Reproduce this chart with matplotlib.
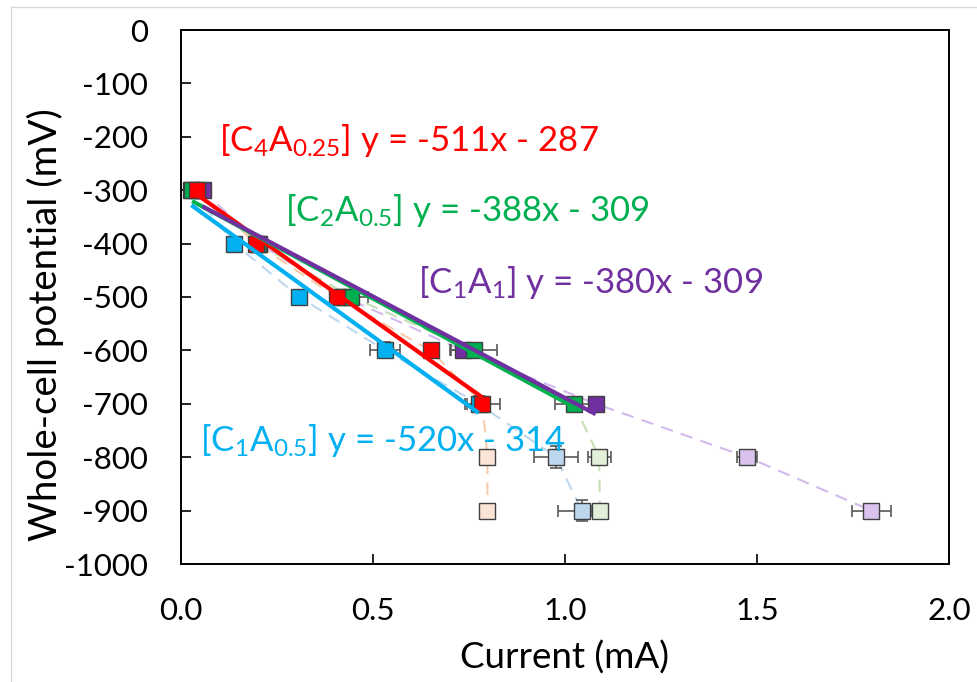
import matplotlib
matplotlib.use('Agg')
import matplotlib.pyplot as plt
from matplotlib.lines import Line2D

plt.rcParams['font.family'] = ['Lato', 'DejaVu Sans']
plt.rcParams['mathtext.fontset'] = 'custom'
plt.rcParams['mathtext.rm'] = 'Lato'
plt.rcParams['mathtext.it'] = 'Lato:italic'
plt.rcParams['axes.unicode_minus'] = False

# whole-cell potential steps (mV)
potential = [-300, -400, -500, -600, -700, -800, -900]

# current (mA) per electrolyte composition
cur_c4a025 = [0.042, 0.195, 0.405, 0.650, 0.785, 0.798, 0.798]
cur_c2a05 = [0.029, 0.200, 0.444, 0.762, 1.023, 1.089, 1.091]
cur_c1a1 = [0.056, 0.204, 0.425, 0.734, 1.080, 1.475, 1.798]
cur_c1a05 = [0.027, 0.139, 0.308, 0.531, 0.775, 0.977, 1.043]

# error bars
xerr_c4a025 = [0.006, 0.006, 0.006, 0.010, 0.045, 0.0, 0.0]
xerr_c2a05 = [0.008, 0.008, 0.043, 0.060, 0.049, 0.030, 0.020]
xerr_c1a1 = [0.010, 0.006, 0.010, 0.034, 0.010, 0.026, 0.050]
xerr_c1a05 = [0.005, 0.005, 0.005, 0.039, 0.030, 0.058, 0.061]
yerr_c1a05 = [0, 0, 0, 15, 15, 21, 20]

# linear fits over the first five points
fit_slope = {'c4a025': -511, 'c2a05': -388, 'c1a1': -380, 'c1a05': -520}
fit_icpt = {'c4a025': -287, 'c2a05': -309, 'c1a1': -309, 'c1a05': -314}
n_fit = 5

series = {
    'c4a025': dict(x=cur_c4a025, xerr=xerr_c4a025, yerr=None,
                   color='#FF0000', light='#FBE5D6', dash='#F8CBAD',
                   label=r'[C$_4$A$_{0.25}$] y = -511x - 287', pos=(0.10, -226)),
    'c2a05': dict(x=cur_c2a05, xerr=xerr_c2a05, yerr=None,
                  color='#00B050', light='#E2F0D9', dash='#C5E0B4',
                  label=r'[C$_2$A$_{0.5}$] y = -388x - 309', pos=(0.27, -357)),
    'c1a1': dict(x=cur_c1a1, xerr=xerr_c1a1, yerr=None,
                 color='#7030A0', light='#D9C3EE', dash='#D4B9EC',
                 label=r'[C$_1$A$_1$] y = -380x - 309', pos=(0.617, -492)),
    'c1a05': dict(x=cur_c1a05, xerr=xerr_c1a05, yerr=yerr_c1a05,
                  color='#00B0F0', light='#BDD7EE', dash='#BDD7EE',
                  label=r'[C$_1$A$_{0.5}$] y = -520x - 314', pos=(0.05, -788)),
}

fig = plt.figure(figsize=(9.77, 6.82), dpi=100)
ax = fig.add_axes([181 / 977, (682 - 564) / 682, 768 / 977, 534 / 682])

# faint chart-area border
fig.add_artist(Line2D([10.5 / 977, 10.5 / 977], [1 - 7 / 682, 0], transform=fig.transFigure,
                      color='#D9D9D9', lw=1))
fig.add_artist(Line2D([10.5 / 977, 1], [1 - 7 / 682, 1 - 7 / 682], transform=fig.transFigure,
                      color='#D9D9D9', lw=1))

draw_order = ['c1a1', 'c1a05', 'c2a05', 'c4a025']
for i, key in enumerate(draw_order):
    s = series[key]
    ax.plot(s['x'], potential, ls=(0, (6, 4)), color=s['dash'], lw=1.5, zorder=1)
    ax.errorbar(s['x'], potential, xerr=s['xerr'], yerr=s['yerr'], fmt='none',
                ecolor='#595959', elinewidth=1.2, capsize=4, capthick=1.2, zorder=2)
    ax.plot(s['x'][n_fit:], potential[n_fit:], ls='none', marker='s', ms=11.5,
            mfc=s['light'], mec='#404040', mew=1.0, zorder=3)
    ax.plot(s['x'][:n_fit], potential[:n_fit], ls='none', marker='s', ms=11.5,
            mfc=s['color'], mec='#404040', mew=1.0, zorder=4 + i * 0.1)

for i, key in enumerate(['c1a05', 'c4a025', 'c2a05', 'c1a1']):
    s = series[key]
    xs = s['x'][:n_fit]
    x0, x1 = min(xs), max(xs)
    ax.plot([x0, x1], [fit_slope[key] * x0 + fit_icpt[key], fit_slope[key] * x1 + fit_icpt[key]],
            color=s['color'], lw=3, solid_capstyle='butt', zorder=6 + i * 0.1)
    ax.text(s['pos'][0], s['pos'][1], s['label'], color=s['color'], fontsize=25,
            ha='left', va='baseline', zorder=7)

ax.set_xlim(0, 2.0)
ax.set_ylim(-1000, 0)
ax.set_xticks([0.0, 0.5, 1.0, 1.5, 2.0])
ax.set_xticklabels(['0.0', '0.5', '1.0', '1.5', '2.0'])
ax.set_yticks(range(-1000, 1, 100))
ax.tick_params(direction='in', length=7, width=1.2, labelsize=22.5, pad=24, color='black')
for sp in ax.spines.values():
    sp.set_linewidth(1.4)
    sp.set_color('black')

ax.set_xlabel('Current (mA)', fontsize=26.5)
ax.set_ylabel('Whole-cell potential (mV)', fontsize=27.7, va='center')
ax.xaxis.set_label_coords(0.5, -0.176)
ax.xaxis.label.set_va('center')
ax.yaxis.set_label_coords(-0.176, 0.448)

fig.savefig('out.png', dpi=100)
